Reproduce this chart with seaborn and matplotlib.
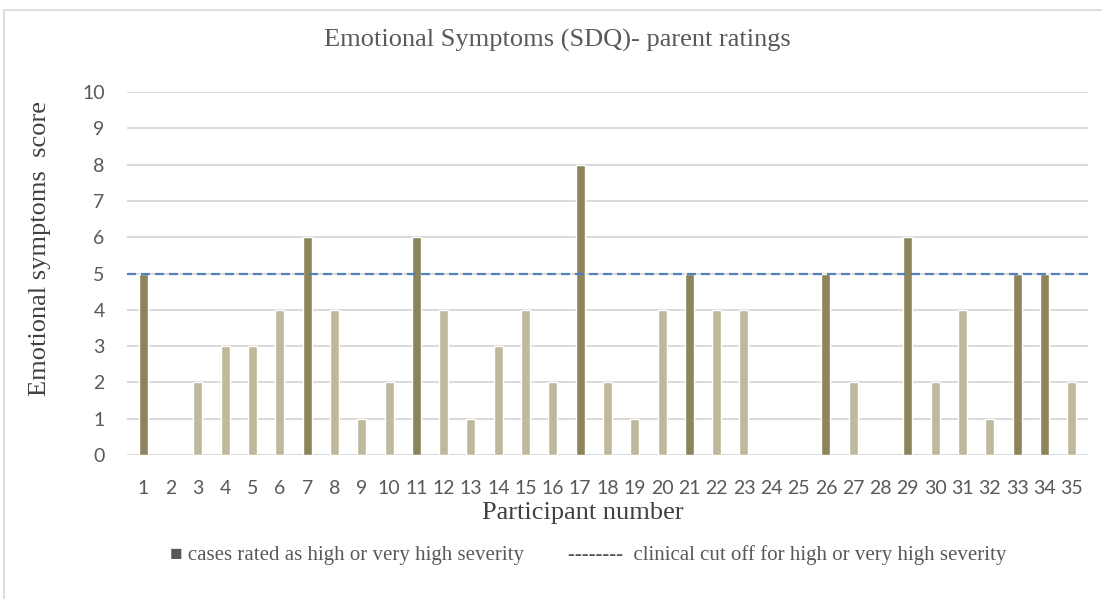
import matplotlib.pyplot as plt
import matplotlib.patches as mpatches
import seaborn as sns
import pandas as pd

# participant scores
participants = [str(i) for i in range(1, 36)]
scores = [5, 0, 2, 3, 3, 4, 6, 4, 1, 2, 6, 4, 1, 3, 4, 2, 8, 2, 1, 4,
          5, 4, 4, 0, 0, 5, 2, 0, 6, 2, 4, 1, 5, 5, 2]
cutoff = 5
y_ticks = list(range(0, 11))

df = pd.DataFrame({"Participant": participants, "Score": scores})
df["High"] = df["Score"] >= cutoff

sns.set_style("white")
plt.rcParams['font.family'] = ['Liberation Serif', 'DejaVu Sans']

fig = plt.figure(figsize=(11.02, 5.99), dpi=100)
ax = fig.add_axes([0.1152, 0.2404, 0.8721, 0.606])

# light frame around the chart area, as in the screenshot
fig.patches.append(mpatches.Rectangle((4 / 1102, -0.01), 1.2, 1 - 10 / 599 + 0.01,
                                      transform=fig.transFigure, fill=False,
                                      edgecolor="#D9D9D9", linewidth=1.2))

for t in y_ticks:
    ax.axhline(t, color="#D9D9D9", linewidth=1.4, zorder=0)

sns.barplot(data=df, x="Participant", y="Score", hue="High", order=participants,
            palette={True: "#948A54", False: "#C4BD97"}, dodge=False,
            width=0.33, legend=False, ax=ax, zorder=2)

ax.axhline(cutoff, color="#4F81BD", linewidth=1.6, linestyle=(0, (4, 2.3)), zorder=3)

ax.set_ylim(0, 10)
ax.set_xlim(-0.6, 34.6)
ax.set_yticks(y_ticks)
sns.despine(ax=ax, left=True, bottom=True)
ax.tick_params(axis="both", length=0, labelsize=14, labelcolor="#595959")
ax.tick_params(axis="x", pad=18)
ax.tick_params(axis="y", pad=16)
for lab in ax.get_xticklabels() + ax.get_yticklabels():
    lab.set_family(["Lato", "DejaVu Sans"])

ax.set_xlabel("Participant number", fontsize=19, color="#404040")
ax.set_ylabel("Emotional symptoms  score", fontsize=19, color="#404040")
ax.xaxis.set_label_coords(0.4745, -0.16)
ax.xaxis.label.set_va("center")
ax.yaxis.set_label_coords(-0.0905, 0.569)
ax.yaxis.label.set_va("center")

fig.text(0.506, 0.933, "Emotional Symptoms (SDQ)- parent ratings", ha="center",
         va="center", fontsize=19, color="#595959")

fig.text(170 / 1102, 0.073, "\u25a0 cases rated as high or very high severity",
         fontsize=15, color="#595959", va="center",
         family=["Liberation Serif", "DejaVu Sans"])
fig.text(568 / 1102, 0.073, "--------  clinical cut off for high or very high severity",
         fontsize=15, color="#595959", va="center")

fig.savefig("out.png", dpi=100)
